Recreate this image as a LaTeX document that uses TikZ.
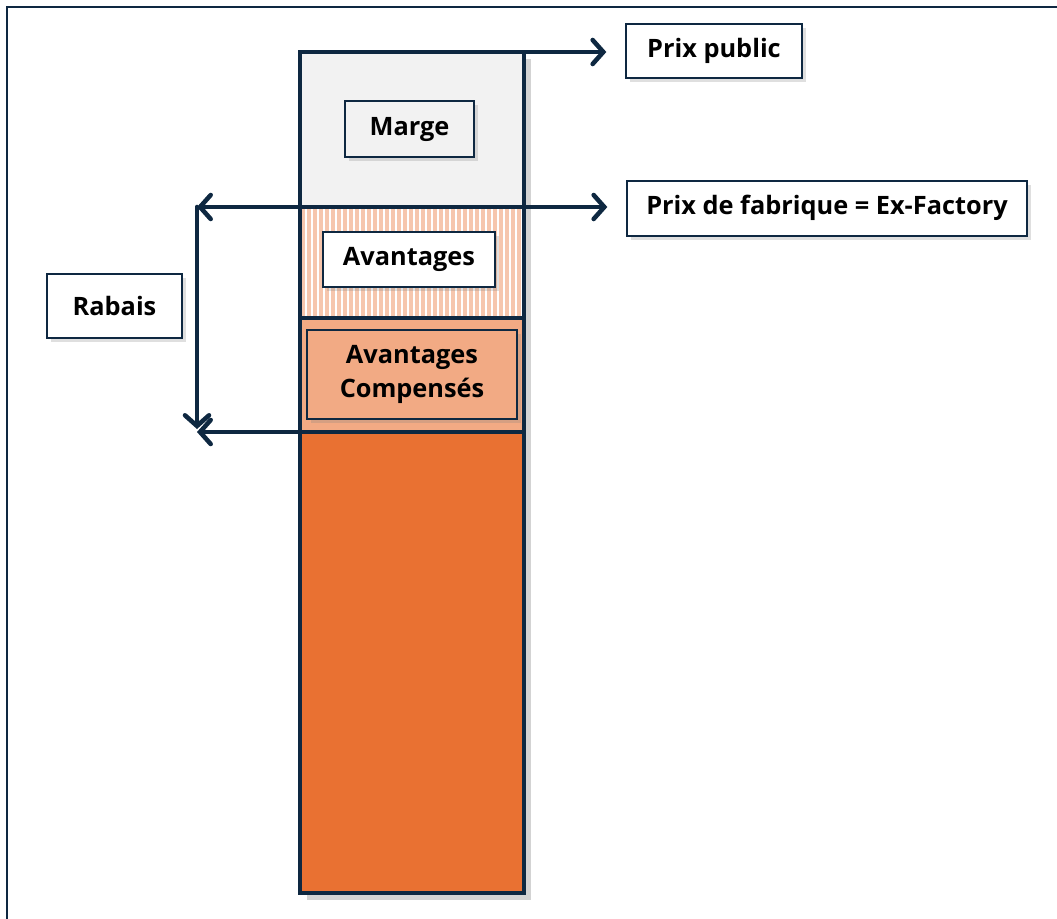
\documentclass[tikz,border=0pt]{standalone}
\usepackage{fontspec}
\setmainfont{Open Sans}
\usetikzlibrary{arrows.meta,shadows}
\definecolor{navy}{HTML}{0E2841}
\definecolor{margegray}{HTML}{F2F2F2}
\definecolor{stripeorange}{HTML}{F6C6AD}
\definecolor{comporange}{HTML}{F2AA84}
\definecolor{baseorange}{HTML}{E97132}
\tikzset{
  lblbox/.style={draw=navy, line width=1.5pt, inner sep=0pt, align=center,
    drop shadow={opacity=0.25, shadow xshift=3pt, shadow yshift=-3pt}},
  arr/.style={navy, line width=3.4pt, line cap=round,
    -{Straight Barb[length=8pt,width=18pt,line cap=round]}},
}
\begin{document}
\begin{tikzpicture}[x=0.75pt,y=-0.75pt,font=\bfseries\fontsize{19}{25}\selectfont]
\useasboundingbox (0,0) rectangle (1057,918);

% frame
\draw[navy, line width=2pt] (7,925) -- (7,7) -- (1065,7);

% bar
\path[fill=white, drop shadow={opacity=0.35, shadow xshift=5pt, shadow yshift=-5pt}] (300,52) rectangle (524,893);
\fill[margegray] (300,52) rectangle (524,207);
\begin{scope}
\clip (300,207) rectangle (524,318);
\foreach \x in {301,307,...,529}
  \fill[stripeorange] (\x,207) rectangle (\x+4,318);
\end{scope}
\fill[comporange] (300,318) rectangle (524,432);
\fill[baseorange] (300,432) rectangle (524,893);
\draw[navy, line width=3pt] (300,207) -- (524,207);
\draw[navy, line width=3pt] (300,318) -- (524,318);
\draw[navy, line width=3pt] (300,432) -- (524,432);
\draw[navy, line width=3pt] (300,52) rectangle (524,893);

\coordinate (pubcorner) at (524,52);
\coordinate (facorner) at (524,207);
\coordinate (rabtop) at (300,207);
\coordinate (rabbot) at (300,432);
\coordinate (bend) at (197,207);
\coordinate (foot) at (197,429);
\coordinate (footleft) at (197,432);

% labels inside the bar
\node[lblbox, fill=margegray, minimum width=96.75pt, minimum height=42pt] (marge) at (409.5,129) {Marge};
\node[lblbox, fill=white, minimum width=129pt, minimum height=41.25pt] (avant) at (409,259.5) {Avantages};
\node[lblbox, fill=comporange, minimum width=157.5pt, minimum height=66.75pt] (comp) at (412,374.5) {Avantages\\Compensés};

% labels outside
\node[lblbox, fill=white, minimum width=132pt, minimum height=40.5pt] (pub) at (714,51) {Prix public};
\node[lblbox, fill=white, minimum width=300pt, minimum height=41.25pt] (fab) at (827,208) {Prix de fabrique = Ex-Factory};
\node[lblbox, fill=white, minimum width=101.25pt, minimum height=48pt] (rab) at (114.5,306) {Rabais};

% arrows
\draw[arr, shorten >=14pt] (pubcorner) -- (pubcorner -| pub.west);
\draw[arr, shorten >=14pt] (facorner) -- (facorner -| fab.west);
\draw[arr] (rabtop) -- (bend);
\draw[arr] (bend) -- (foot);
\draw[arr] (rabbot) -- (footleft);
\end{tikzpicture}
\end{document}
